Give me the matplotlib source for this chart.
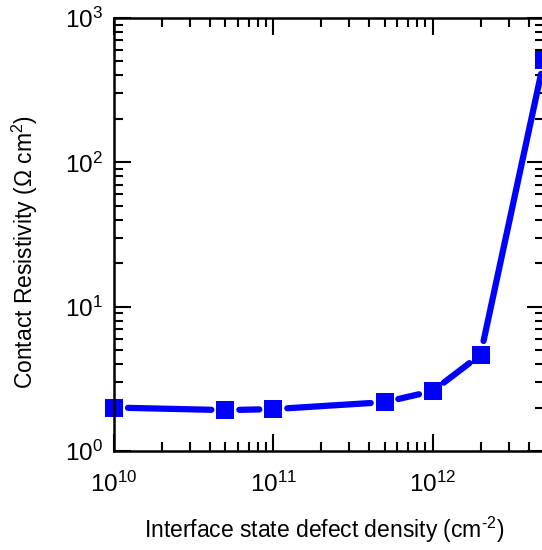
import numpy as np
import matplotlib
matplotlib.use('Agg')
import matplotlib.pyplot as plt
from matplotlib.ticker import LogLocator, NullFormatter

plt.rcParams['font.family'] = 'Liberation Sans'
plt.rcParams['mathtext.fontset'] = 'custom'
plt.rcParams['mathtext.rm'] = 'Liberation Sans'
plt.rcParams['mathtext.it'] = 'Liberation Sans:italic'

# defect density (cm^-2) vs. contact resistivity (Ohm cm^2)
defect_density = [1e10, 5e10, 1e11, 5e11, 1e12, 2e12, 5e12]
resistivity = [2.0, 1.92, 1.95, 2.18, 2.6, 4.65, 510]

BLUE = '#0000ff'

fig = plt.figure(figsize=(5.42, 5.5), dpi=100)
ax = fig.add_axes([114 / 542, 1 - 451 / 550, 430 / 542, 433 / 550])

ax.set_xscale('log')
ax.set_yscale('log')
ax.set_xlim(1e10, 5e12)
ax.set_ylim(1, 1000)

# connecting segments, trimmed so they stop short of the square markers
gap = 14  # px from marker centre
pts = ax.transData.transform(np.column_stack([defect_density, resistivity]))
inv = ax.transData.inverted()
for p0, p1 in zip(pts[:-1], pts[1:]):
    d = p1 - p0
    n = np.hypot(*d)
    if n <= 2 * gap:
        continue
    u = d / n
    a, b = inv.transform([p0 + u * gap, p1 - u * gap])
    ax.plot([a[0], b[0]], [a[1], b[1]], color=BLUE, lw=4.5,
            solid_capstyle='round', clip_on=False)

ax.plot(defect_density, resistivity, ls='none', marker='s', markersize=12.5,
        color=BLUE, markeredgewidth=0, clip_on=False)

for axis in (ax.xaxis, ax.yaxis):
    axis.set_major_locator(LogLocator(base=10))
    axis.set_minor_locator(LogLocator(base=10, subs=np.arange(2, 10)))
    axis.set_minor_formatter(NullFormatter())

ax.tick_params(which='both', direction='in', top=True, right=True,
               width=1.5, labelsize=17.5)
ax.tick_params(axis='x', pad=15)
ax.tick_params(axis='y', pad=8)
ax.tick_params(which='major', length=12)
ax.tick_params(which='minor', length=6.5)
for s in ax.spines.values():
    s.set_linewidth(1.8)

ax.set_xlabel('Interface state defect density (cm$^{\\text{-2}}$)', fontsize=16.5)
ax.set_ylabel('Contact Resistivity ($\\Omega$ cm$^{2}$)', fontsize=16.5)
ax.xaxis.set_label_coords(0.488, -64 / 433, transform=ax.transAxes)
ax.yaxis.set_label_coords(-74 / 430, 0.46, transform=ax.transAxes)

fig.savefig('out.png', dpi=100)
